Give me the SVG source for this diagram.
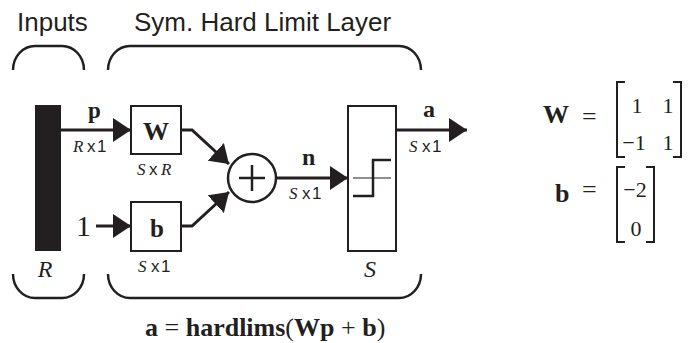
<svg xmlns="http://www.w3.org/2000/svg" width="691" height="343" viewBox="0 0 691 343">
<style>
.sans{font-family:"Liberation Sans",Arial,sans-serif;fill:#231f20}
.serif{font-family:"Liberation Serif","Times New Roman",serif;fill:#231f20}
.b{font-weight:bold}
.i{font-style:italic}
.dim{font-size:17px}
.box{fill:#fff;stroke:#231f20;stroke-width:2}
.line{fill:none;stroke:#231f20;stroke-width:3}
.brk{fill:none;stroke:#231f20;stroke-width:2.5}
.mat{fill:none;stroke:#231f20;stroke-width:2}
</style>
<defs>
<marker id="arr" markerUnits="userSpaceOnUse" markerWidth="18" markerHeight="24" refX="18" refY="12" orient="auto">
<path d="M0,0 L18,12 L0,24 Z" fill="#231f20"/>
</marker>
</defs>
<rect width="691" height="343" fill="#fff"/>

<g id="titles">
<text class="sans" x="17" y="31" font-size="26">Inputs</text>
<text class="sans" x="134" y="31" font-size="26">Sym. Hard Limit Layer</text>
</g>

<g id="brackets">
<path class="brk" d="M13,70 A22,24 0 0 1 35,46 L62,46 A22,24 0 0 1 84,70"/>
<path class="brk" d="M108,70 A22,24 0 0 1 130,46 L399,46 A22,24 0 0 1 421,70"/>
<path class="brk" d="M13,274 A22,24 0 0 0 35,298 L62,298 A22,24 0 0 0 84,274"/>
<path class="brk" d="M108,274 A22,24 0 0 0 130,298 L399,298 A22,24 0 0 0 421,274"/>
</g>

<g id="connectors">
<path class="line" d="M61,130 L131,130" marker-end="url(#arr)"/>
<path class="line" d="M96,226 L131,226" marker-end="url(#arr)"/>
<path class="line" d="M181,130 L192,130 L229,164" marker-end="url(#arr)"/>
<path class="line" d="M181,226 L192,226 L229,192" marker-end="url(#arr)"/>
<path class="line" d="M276,178 L348,178" marker-end="url(#arr)"/>
<path class="line" d="M396,130 L467,130" marker-end="url(#arr)"/>
</g>

<g id="input">
<rect x="35" y="105" width="26" height="146" fill="#231f20"/>
<text class="serif i" x="45" y="277" font-size="24" text-anchor="middle">R</text>
<text class="serif b" x="88" y="118" font-size="23">p</text>
<text class="dim" y="152"><tspan class="serif i" x="73">R</tspan><tspan class="sans" x="87">x</tspan><tspan class="sans" x="97">1</tspan></text>
<text class="serif" x="91" y="236" font-size="30" text-anchor="end">1</text>
</g>

<g id="weight">
<rect class="box" x="131" y="106" width="50" height="48"/>
<text class="serif b" x="156" y="140" font-size="26" text-anchor="middle">W</text>
<text class="dim" y="175"><tspan class="serif i" x="137">S</tspan><tspan class="sans" x="149">x</tspan><tspan class="serif i" x="161">R</tspan></text>
</g>

<g id="bias">
<rect class="box" x="131" y="202" width="50" height="49"/>
<text class="serif b" x="157" y="237" font-size="25" text-anchor="middle">b</text>
<text class="dim" y="272"><tspan class="serif i" x="138">S</tspan><tspan class="sans" x="151">x</tspan><tspan class="sans" x="161">1</tspan></text>
</g>

<g id="sum">
<circle cx="252" cy="178" r="24" fill="#fff" stroke="#231f20" stroke-width="2.5"/>
<path d="M239,178 L265,178 M252,165 L252,191" stroke="#231f20" stroke-width="2.5"/>
<text class="serif b" x="302" y="165" font-size="24">n</text>
<text class="dim" y="199"><tspan class="serif i" x="289">S</tspan><tspan class="sans" x="302">x</tspan><tspan class="sans" x="312">1</tspan></text>
</g>

<g id="hardlims">
<rect class="box" x="348" y="106" width="48" height="145"/>
<path d="M353,178 L391,178" stroke="#231f20" stroke-width="1"/>
<path d="M353,196 L373,196 L373,160 L391,160" fill="none" stroke="#231f20" stroke-width="2.5"/>
<text class="serif i" x="370" y="277" font-size="24" text-anchor="middle">S</text>
<text class="serif b" x="423" y="117" font-size="24">a</text>
<text class="dim" y="152"><tspan class="serif i" x="409">S</tspan><tspan class="sans" x="422">x</tspan><tspan class="sans" x="432">1</tspan></text>
</g>

<g id="equation">
<text class="serif" x="145" y="336" font-size="26"><tspan class="b">a</tspan> = <tspan class="b">hardlims</tspan>(<tspan class="b">Wp</tspan> + <tspan class="b">b</tspan>)</text>
</g>

<g id="matrixW">
<text class="serif b" x="543" y="123" font-size="26">W</text>
<text class="serif" x="582" y="125" font-size="26">=</text>
<path class="mat" d="M625,82 L617,82 L617,157 L625,157"/>
<path class="mat" d="M673,82 L681,82 L681,157 L673,157"/>
<text class="serif" y="113" font-size="22" text-anchor="middle"><tspan x="637">1</tspan><tspan x="668">1</tspan></text>
<text class="serif" y="150" font-size="22" text-anchor="middle"><tspan x="634">−1</tspan><tspan x="668">1</tspan></text>
</g>

<g id="matrixB">
<text class="serif b" x="555" y="202" font-size="26">b</text>
<text class="serif" x="582" y="198" font-size="26">=</text>
<path class="mat" d="M625,167 L617,167 L617,242 L625,242"/>
<path class="mat" d="M646,167 L654,167 L654,242 L646,242"/>
<text class="serif" x="635" y="197" font-size="22" text-anchor="middle">−2</text>
<text class="serif" x="636" y="236" font-size="22" text-anchor="middle">0</text>
</g>
</svg>
